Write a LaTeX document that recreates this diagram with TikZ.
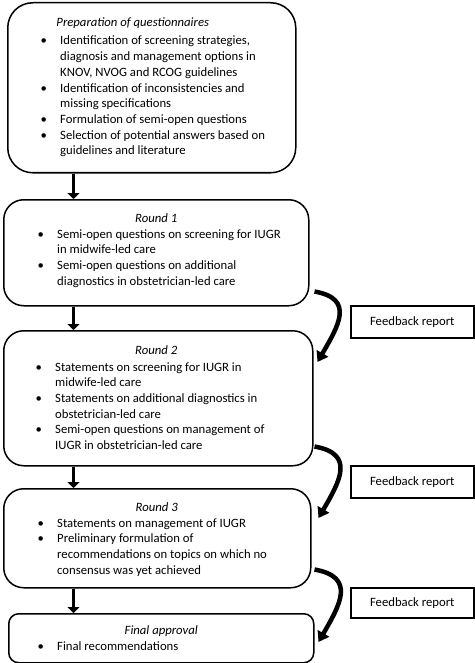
\documentclass[tikz,border=0pt]{standalone}
\usepackage{fontspec}
\setmainfont{Carlito}
\usetikzlibrary{arrows.meta}
\usetikzlibrary{positioning}
\tikzset {
  stage/.style = {
    draw = black,
    line width = 1.5pt,
    anchor = north west,
    inner sep = 0
  },
  % italic heading of a stage
  stage title/.style = {
    anchor = base,
    inner sep = 0,
    font = \fontsize{12.7}{15.7}\selectfont\itshape
  },
  % bullet list of a stage
  stage list/.style = {
    anchor = base west,
    inner sep = 0,
    font = \fontsize{12.7}{15.7}\selectfont
  },
  report/.style = {
    draw = black,
    line width = 1.5pt,
    anchor = north west,
    minimum width = 123pt,
    minimum height = 32pt,
    font = \fontsize{12.7}{15.7}\selectfont
  },
  % arrow between stages
  flow/.style = {
    line width = 3.5pt,
    -{Triangle[width=12pt,length=6pt]}
  },
  % curved arrow past a feedback report
  feedback/.style = {
    line width = 4.5pt,
    -{Triangle[width=13pt,length=10pt]},
    looseness = 1.5
  }
}
\newcommand{\bl}{\textbullet}
\newenvironment{bullets}{\begin{tabular}[t]{@{}p{19.5pt}@{}l@{}}}{\end{tabular}}

\begin{document}
\begin{tikzpicture}[x=1pt, y=1pt]
    \useasboundingbox (0,0) rectangle (474,-663);

    \node[stage, rounded corners=25pt, minimum width=288pt, minimum height=170pt] (prep) at (7,-2) {};
    \node[stage, rounded corners=20pt, minimum width=305pt, minimum height=106pt] (r1) at (3,-199) {};
    \node[stage, rounded corners=20pt, minimum width=309pt, minimum height=135pt] (r2) at (3,-330) {};
    \node[stage, rounded corners=20pt, minimum width=307pt, minimum height=99pt] (r3) at (3,-488) {};
    \node[stage, rounded corners=10pt, minimum width=305pt, minimum height=49pt] (fin) at (8,-613) {};

    \node[stage title] (prep-title) at ([xshift=-19pt, yshift=-25pt]prep.north) {Preparation of questionnaires};
    \node[stage list] (prep-list) at ([xshift=33.5pt, yshift=-43pt]prep.north west) {\begin{bullets}
      \bl & Identification of screening strategies,\\
          & diagnosis and management options in\\
          & KNOV, NVOG and RCOG guidelines\\
      \bl & Identification of inconsistencies and\\
          & missing specifications\\
      \bl & Formulation of semi-open questions\\
      \bl & Selection of potential answers based on\\
          & guidelines and literature
    \end{bullets}};

    \node[stage title] (r1-title) at ([yshift=-23pt]r1.north) {Round 1};
    \node[stage list] (r1-list) at ([xshift=34.5pt, yshift=-39pt]r1.north west) {\begin{bullets}
      \bl & Semi-open questions on screening for IUGR\\
          & in midwife-led care\\
      \bl & Semi-open questions on additional\\
          & diagnostics in obstetrician-led care
    \end{bullets}};

    \node[stage title] (r2-title) at ([xshift=-2pt, yshift=-24pt]r2.north) {Round 2};
    \node[stage list] (r2-list) at ([xshift=32.5pt, yshift=-41pt]r2.north west) {\begin{bullets}
      \bl & Statements on screening for IUGR in\\
          & midwife-led care\\
      \bl & Statements on additional diagnostics in\\
          & obstetrician-led care\\
      \bl & Semi-open questions on management of\\
          & IUGR in obstetrician-led care
    \end{bullets}};

    \node[stage title] (r3-title) at ([xshift=-0.5pt, yshift=-23pt]r3.north) {Round 3};
    \node[stage list] (r3-list) at ([xshift=34.5pt, yshift=-39pt]r3.north west) {\begin{bullets}
      \bl & Statements on management of IUGR\\
      \bl & Preliminary formulation of\\
          & recommendations on topics on which no\\
          & consensus was yet achieved
    \end{bullets}};

    \node[stage title] (fin-title) at ([yshift=-21pt]fin.north) {Final approval};
    \node[stage list] (fin-list) at ([xshift=29.5pt, yshift=-37pt]fin.north west) {\begin{bullets}
      \bl & Final recommendations
    \end{bullets}};

    \node[report] (fb1) at (350,-305) {Feedback report};
    \node[report] (fb2) at (350,-465) {Feedback report};
    \node[report, minimum height=30pt] (fb3) at (350,-587) {Feedback report};

    \coordinate (spine) at (73.5,0);
    \draw[flow] (spine |- prep.south) -- (spine |- r1.north);
    \draw[flow] (spine |- r1.south) -- (spine |- r2.north);
    \draw[flow] (spine |- r2.south) -- (spine |- r3.north);
    \draw[flow] (spine |- r3.south) -- (spine |- fin.north);

    \draw[feedback] ([xshift=5pt, yshift=15pt]r1.south east) to[out=-10, in=60] ([xshift=4pt, yshift=-32pt]r2.north east);
    \draw[feedback] ([xshift=1pt, yshift=20pt]r2.south east) to[out=-10, in=60] ([xshift=7pt, yshift=-30pt]r3.north east);
    \draw[feedback] ([xshift=3pt, yshift=19pt]r3.south east) to[out=-10, in=60] ([xshift=4pt, yshift=-29pt]fin.north east);

  \end{tikzpicture}
\end{document}
